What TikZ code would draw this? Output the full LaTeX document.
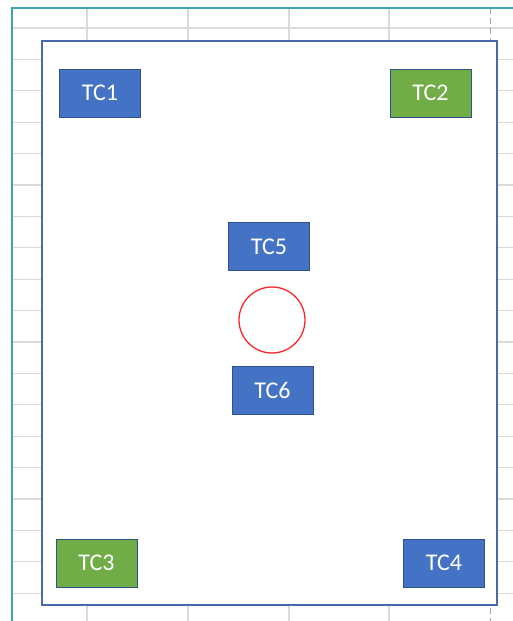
\documentclass[tikz,border=0pt]{standalone}
\usepackage{fontspec}
\setmainfont{Carlito}
\usepackage{tikz}
\usepackage{xcolor}

\definecolor{tcblue}{HTML}{4472C4}
\definecolor{tcgreen}{HTML}{70AD47}
\definecolor{tcline}{HTML}{2F528F}
\definecolor{frameblue}{HTML}{4A69A8}
\definecolor{gridgray}{HTML}{DADADA}
\definecolor{selteal}{HTML}{3AA6AE}

\tikzset{
  tcbox/.style={draw=tcline, line width=1pt, fill=tcblue, text=white,
    minimum width=81pt, minimum height=48pt, inner sep=0pt,
    font=\fontsize{24}{27}\selectfont},
  tcgreenbox/.style={tcbox, fill=tcgreen},
  gridline/.style={gridgray, line width=1.2pt},
}

\begin{document}
\begin{tikzpicture}[x=1pt,y=-1pt]
\useasboundingbox (0,0) rectangle (513,621);

% sheet grid behind the frame
\foreach \gy in {0,...,18}
  \draw[gridline] (12,{28+31.4*\gy}) -- (513,{28+31.4*\gy});
\foreach \gx in {87,188,289,389}
  \draw[gridline] (\gx,8) -- (\gx,621);
\draw[gray!70, line width=1pt, dash pattern=on 6pt off 4pt] (490,8) -- (490,621);
\draw[selteal, line width=1.5pt] (12,621) -- (12,8) -- (513,8);

\draw[frameblue, line width=1.6pt, fill=white] (42,41) rectangle (497,605);

\node[tcbox] (tc1) at (100,93) {TC1};
\node[tcgreenbox] (tc2) at (430.5,93) {TC2};
\node[tcbox] (tc5) at (269,246.5) {TC5};
\node[draw=red!85, line width=1.3pt, circle, minimum size=66pt, inner sep=0pt] (hole) at (272,320) {};
\node[tcbox] (tc6) at (272.5,390) {TC6};
\node[tcgreenbox] (tc3) at (96.5,563) {TC3};
\node[tcbox] (tc4) at (444,563) {TC4};

\end{tikzpicture}
\end{document}
